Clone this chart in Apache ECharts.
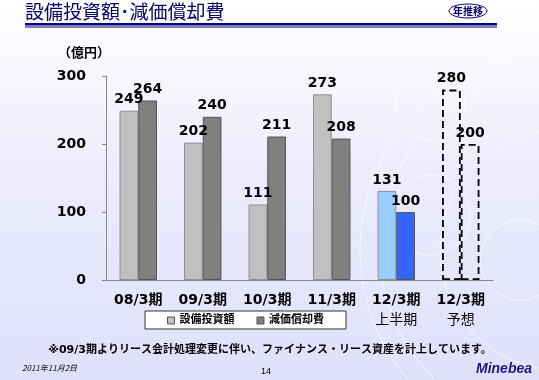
<!DOCTYPE html>
<html>
<head>
<meta charset="utf-8">
<script src="https://cdn.jsdelivr.net/npm/echarts@6/dist/echarts.min.js"></script>
<style>
  html, body { margin: 0; padding: 0; }
  #main { width: 539px; height: 380px; }
</style>
</head>
<body>
<div id="main"></div>
<script>
const categories = ['08/3期', '09/3期', '10/3期', '11/3期', '12/3期\n上半期', '12/3期\n予想'];
const capex = [249, 202, 111, 273, 131, 280];
const depreciation = [264, 240, 211, 208, 100, 200];
const capexColors = ['#c0c0c0', '#c0c0c0', '#c0c0c0', '#c0c0c0', '#99ccff', 'transparent'];
const deprColors = ['#808080', '#808080', '#808080', '#808080', '#3366ff', 'transparent'];
const yTicks = [0, 100, 200, 300];

const cjk = '"DejaVu Sans", "Noto Sans CJK JP", sans-serif';

function itemsFor(values, colors, edge) {
  return values.map(function (v, i) {
    const forecast = colors[i] === 'transparent';
    return {
      value: v,
      itemStyle: forecast ? {
        color: 'transparent',
        borderColor: '#000',
        borderWidth: 1.8,
        borderType: [7, 4]
      } : {
        color: colors[i],
        borderColor: edge,
        borderWidth: 1
      }
    };
  });
}

const myChart = echarts.init(document.getElementById('main'));

const labelStyle = {
  show: true,
  position: 'top',
  distance: 4,
  color: '#000',
  fontFamily: cjk,
  fontWeight: 'bold',
  fontSize: 14
};

myChart.setOption({
  backgroundColor: {
    type: 'linear', x: 0, y: 0, x2: 0, y2: 1,
    colorStops: [
      { offset: 0, color: '#ffffff' },
      { offset: 0.45, color: '#ececfd' },
      { offset: 1, color: '#e0e0fa' }
    ]
  },
  animation: false,
  grid: { left: 106, right: 46, top: 76, bottom: 100 },
  legend: {
    left: 145,
    top: 311,
    width: 200,
    padding: [4, 22, 3, 22],
    backgroundColor: '#fff',
    borderColor: '#333',
    borderWidth: 1,
    borderRadius: 0,
    itemGap: 22,
    itemWidth: 7,
    itemHeight: 7,
    icon: 'rect',
    textStyle: { fontFamily: cjk, fontWeight: 'bold', fontSize: 11, color: '#000' },
    data: [
      { name: '設備投資額', itemStyle: { color: '#c0c0c0', borderColor: '#555', borderWidth: 1 } },
      { name: '減価償却費', itemStyle: { color: '#808080', borderColor: '#555', borderWidth: 1 } }
    ]
  },
  xAxis: {
    type: 'category',
    data: categories,
    axisLine: { lineStyle: { color: '#888' } },
    axisTick: { length: 4, lineStyle: { color: '#888' } },
    axisLabel: {
      margin: 10,
      interval: 0,
      formatter: function (v) {
        const parts = v.split('\n');
        return parts.length > 1 ? '{a|' + parts[0] + '}\n{b|' + parts[1] + '}' : '{a|' + v + '}';
      },
      rich: {
        a: { fontFamily: cjk, fontWeight: 'bold', fontSize: 14, color: '#000', lineHeight: 20 },
        b: { fontFamily: cjk, fontSize: 14, color: '#000', lineHeight: 20 }
      }
    }
  },
  yAxis: {
    type: 'value',
    min: yTicks[0],
    max: yTicks[yTicks.length - 1],
    interval: 100,
    splitLine: { show: false },
    axisLine: { show: true, lineStyle: { color: '#888' } },
    axisTick: { show: true, length: 4, lineStyle: { color: '#888' } },
    axisLabel: {
      margin: 20,
      color: '#000',
      fontFamily: cjk,
      fontWeight: 'bold',
      fontSize: 14
    }
  },
  series: [
    {
      name: '設備投資額',
      type: 'bar',
      barWidth: '29%',
      barGap: '0%',
      itemStyle: { color: '#c0c0c0' },
      label: labelStyle,
      data: itemsFor(capex, capexColors, '#8f8f8f')
    },
    {
      name: '減価償却費',
      type: 'bar',
      barWidth: '29%',
      itemStyle: { color: '#808080' },
      label: labelStyle,
      data: itemsFor(depreciation, deprColors, '#555')
    }
  ],
  graphic: [
    // decorative rings at the right
    { type: 'circle', shape: { cx: 560, cy: 250, r: 200 }, style: { fill: 'none', stroke: 'rgba(255,255,255,0.7)', lineWidth: 1 }, silent: true, z: -1 },
    { type: 'circle', shape: { cx: 560, cy: 250, r: 180 }, style: { fill: 'none', stroke: 'rgba(255,255,255,0.7)', lineWidth: 1 }, silent: true, z: -1 },
    { type: 'circle', shape: { cx: 560, cy: 250, r: 120 }, style: { fill: 'none', stroke: 'rgba(255,255,255,0.7)', lineWidth: 1 }, silent: true, z: -1 },
    { type: 'circle', shape: { cx: 430, cy: 105, r: 35 }, style: { fill: 'none', stroke: 'rgba(255,255,255,0.7)', lineWidth: 1 }, silent: true, z: -1 },
    { type: 'circle', shape: { cx: 430, cy: 215, r: 40 }, style: { fill: 'none', stroke: 'rgba(255,255,255,0.7)', lineWidth: 1 }, silent: true, z: -1 },
    { type: 'circle', shape: { cx: 520, cy: 260, r: 40 }, style: { fill: 'none', stroke: 'rgba(255,255,255,0.7)', lineWidth: 1 }, silent: true, z: -1 },
    // title
    { type: 'text', left: 25, top: 2, style: { text: '設備投資額･減価償却費', fill: '#000066', font: '19px "Noto Sans CJK JP", sans-serif' } },
    { type: 'rect', shape: { x: 25, y: 23, width: 472, height: 2.5 }, style: { fill: '#000080' } },
    { type: 'rect', shape: { x: 25, y: 26.5, width: 472, height: 1 }, style: { fill: '#000080' } },
    { type: 'ellipse', shape: { cx: 468, cy: 11, rx: 19, ry: 7 }, style: { fill: '#fff', stroke: '#000080', lineWidth: 1 } },
    { type: 'text', x: 468, y: 11, style: { text: '年推移', fill: '#000066', align: 'center', verticalAlign: 'middle', font: 'bold 10px "Noto Sans CJK JP", sans-serif' } },
    // unit
    { type: 'text', left: 58, top: 46, style: { text: '（億円）', fill: '#000', font: 'bold 13px "Noto Sans CJK JP", sans-serif' } },
    // footnote
    { type: 'text', x: 270, y: 350, style: { text: '※09/3期よりリース会計処理変更に伴い、ファイナンス・リース資産を計上しています。', fill: '#000', align: 'center', verticalAlign: 'middle', font: 'bold 11px "DejaVu Sans", "Noto Sans CJK JP", sans-serif' } },
    { type: 'text', left: 22, top: 364, style: { text: '2011年11月2日', fill: '#000', font: 'italic 8px "Noto Sans CJK JP", sans-serif' } },
    { type: 'text', x: 266, y: 372, style: { text: '14', fill: '#000', align: 'center', verticalAlign: 'middle', font: '9px "Liberation Sans", sans-serif' } },
    { type: 'text', left: 476, top: 362, style: { text: 'Minebea', fill: '#1a1a80', font: 'italic bold 14px "Liberation Sans", sans-serif' } }
  ]
});
</script>
</body>
</html>
